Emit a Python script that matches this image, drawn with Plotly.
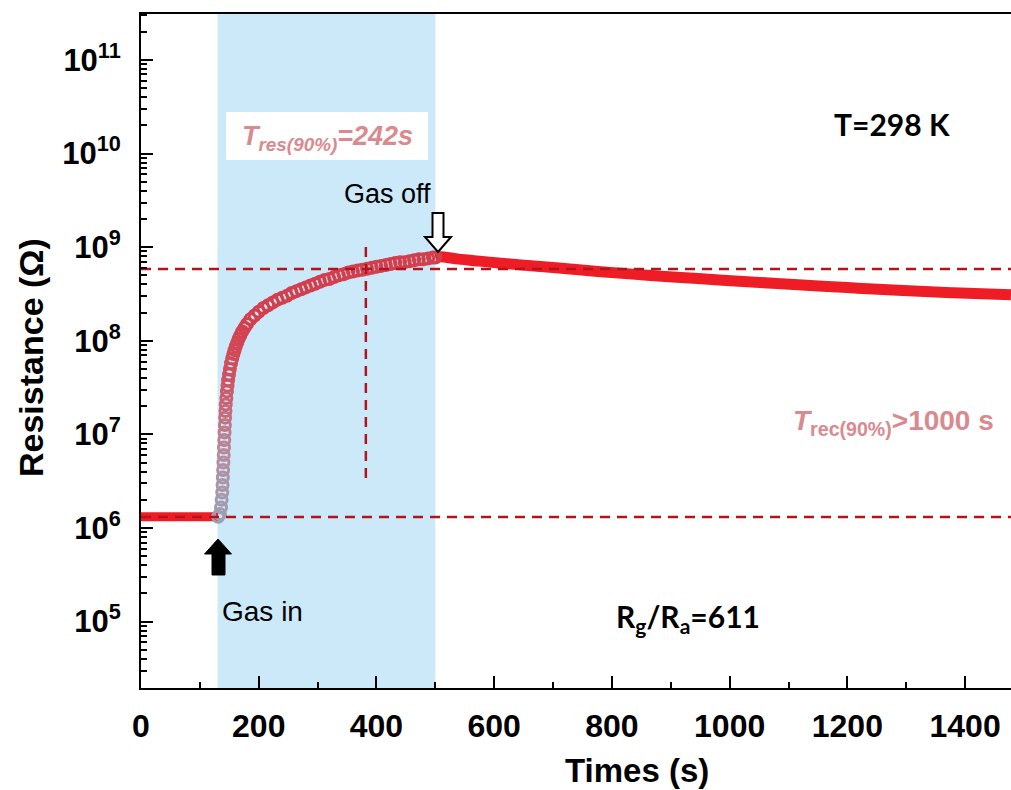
import plotly.graph_objects as go
import numpy as np

# ---------------- data ----------------
t_base = [0, 131]
r_base = [1.32e6, 1.32e6]

t_rise = [131, 134, 136, 137, 138, 138.5, 139, 139.5, 140, 140.5, 141, 141.5, 142, 142.5,
          143, 143.5, 144, 145, 146, 147, 148, 149.5, 151, 153, 155, 157, 159, 161, 163.5,
          166, 169, 172, 176, 180, 186, 193, 200, 208, 216, 224, 232, 240, 248, 256, 264,
          272, 280, 288, 296, 304, 312, 320, 328, 336, 344, 352, 360, 368, 376, 384, 392,
          400, 408, 416, 424, 432, 440, 448, 456, 464, 472, 480, 488, 496, 500]
r_rise = [1.32e6, 1.41e6, 1.66e6, 2.00e6, 2.40e6, 2.88e6, 3.47e6, 4.17e6, 5.01e6, 6.03e6,
          7.24e6, 8.71e6, 1.05e7, 1.26e7, 1.51e7, 1.78e7, 2.09e7, 2.45e7, 2.88e7, 3.31e7,
          3.80e7, 4.37e7, 5.01e7, 5.75e7, 6.46e7, 7.24e7, 7.94e7, 8.71e7, 9.55e7, 1.05e8,
          1.15e8, 1.26e8, 1.38e8, 1.51e8, 1.70e8, 1.86e8, 2.04e8, 2.24e8, 2.40e8, 2.57e8,
          2.75e8, 2.88e8, 3.02e8, 3.24e8, 3.39e8, 3.55e8, 3.72e8, 3.89e8, 4.07e8, 4.27e8,
          4.47e8, 4.57e8, 4.79e8, 5.01e8, 5.13e8, 5.37e8, 5.50e8, 5.62e8, 5.75e8, 5.89e8,
          6.03e8, 6.17e8, 6.31e8, 6.46e8, 6.61e8, 6.76e8, 6.92e8, 6.92e8, 7.08e8, 7.24e8,
          7.41e8, 7.41e8, 7.59e8, 7.76e8, 7.76e8]

t_rec = [500, 508, 540, 575, 607, 650, 700, 776, 860, 946, 1030, 1116, 1200, 1286, 1380, 1478]
r_rec = [7.76e8, 7.89e8, 7.45e8, 7.10e8, 6.78e8, 6.43e8, 6.07e8, 5.50e8, 5.02e8, 4.62e8,
         4.28e8, 3.96e8, 3.70e8, 3.46e8, 3.26e8, 3.10e8]

gas_window = [130, 500]
r_90_level = 5.85e8
r_air_level = 1.31e6
t_90 = 382
vline_r = [3.42e6, 1.11e9]

x_ticks = [0, 200, 400, 600, 800, 1000, 1200, 1400]
y_ticks = [1e5, 1e6, 1e7, 1e8, 1e9, 1e10, 1e11]
y_ticktext = ["10<sup>5</sup>", "10<sup>6</sup>", "10<sup>7</sup>", "10<sup>8</sup>",
              "10<sup>9</sup>", "10<sup>10</sup>", "10<sup>11</sup>"]

# ---------------- geometry helpers (pixel -> paper) ----------------
L, T, R, B = 141, 14, 1011, 688
def px(x):
    return (x - L) / (R - L)
def py(y):
    return (B - y) / (B - T)

XMAX = 1478
ARIAL = "Liberation Sans"
CAL = "Lato"
PINK = "#d98a8f"
DRED = "#b3141c"
RED = "#ee1c25"

fig = go.Figure()

# gas window
fig.add_shape(type="rect", xref="x", yref="paper", x0=gas_window[0], x1=gas_window[1],
              y0=0, y1=1, fillcolor="#cce9fa", line_width=0, layer="below")

# baseline
fig.add_trace(go.Scatter(x=t_base, y=r_base, mode="lines",
                         line=dict(color=RED, width=9), hoverinfo="skip"))
# recovery
fig.add_trace(go.Scatter(x=t_rec, y=r_rec, mode="lines", line_shape="spline",
                         line=dict(color=RED, width=11), hoverinfo="skip"))
# rise: open circles with grey->red gradient
fig.add_trace(go.Scatter(
    x=t_rise, y=r_rise, mode="markers",
    marker=dict(symbol="circle-open", size=11,
                color=np.log10(r_rise), cmin=6.1, cmax=8.2,
                colorscale=[[0, "#9ea0b4"], [0.35, "#b88a9a"], [0.7, "#cf5464"], [1, "#d43f4e"]],
                line=dict(width=3)),
    hoverinfo="skip"))

# dashed reference lines
dash = "10px,7px"
fig.add_trace(go.Scatter(x=[0, XMAX], y=[r_90_level, r_90_level], mode="lines",
                         line=dict(color=DRED, width=2.5, dash=dash), hoverinfo="skip"))
fig.add_trace(go.Scatter(x=[0, XMAX], y=[r_air_level, r_air_level], mode="lines",
                         line=dict(color=DRED, width=2.5, dash=dash), hoverinfo="skip"))
fig.add_trace(go.Scatter(x=[t_90, t_90], y=vline_r, mode="lines",
                         line=dict(color=DRED, width=2.5, dash=dash), hoverinfo="skip"))

# arrows
def path(points):
    s = "M " + " L ".join(f"{px(a):.5f},{py(b):.5f}" for a, b in points) + " Z"
    return s

gas_in = [(218, 539), (231.5, 554), (225, 554), (225, 575), (212, 575), (212, 554), (204.5, 554)]
gas_off = [(438, 252), (451, 237), (443.5, 237), (443.5, 213), (432.5, 213), (432.5, 237), (425, 237)]
fig.add_shape(type="path", xref="paper", yref="paper", path=path(gas_in),
              fillcolor="black", line=dict(color="black", width=1))
fig.add_shape(type="path", xref="paper", yref="paper", path=path(gas_off),
              fillcolor="white", line=dict(color="black", width=2))

# white box for T_res
fig.add_shape(type="rect", xref="paper", yref="paper", x0=px(226), x1=px(428),
              y0=py(160), y1=py(112), fillcolor="white", line_width=0)

ann = []
def A(x, y, text, size, family=ARIAL, color="black", weight="normal", **kw):
    ann.append(dict(x=px(x), y=py(y), xref="paper", yref="paper", text=text, showarrow=False,
                    font=dict(size=size, family=family, color=color, weight=weight),
                    xanchor="center", yanchor="middle", **kw))

A(327, 138, "<i>T<sub>res(90%)</sub>=242s</i>", 27, color=PINK, weight="bold")
A(893, 422, "<i>T</i><sub>rec(90%)</sub>>1000 s", 28, color=PINK, weight="bold")
A(892, 124, "T=298 K", 30, family=CAL, weight="bold")
A(688, 618, "R<sub>g</sub>/R<sub>a</sub>=611", 30, family=CAL, weight="bold")
A(262, 611, "Gas in", 28)
A(387, 194, "Gas off", 27)
A(637, 770, "Times (s)", 33, weight="bold")
A(31, 357, "Resistance (Ω)", 34, weight="bold", textangle=-90)

fig.update_layout(annotations=ann)

fig.update_xaxes(range=[0, XMAX], tickvals=x_ticks, ticks="inside", ticklen=12, tickwidth=2,
                 tickcolor="black", showline=True, linewidth=2, linecolor="black", mirror=True,
                 showgrid=False, zeroline=False, ticklabelstandoff=9,
                 tickfont=dict(family=ARIAL, size=32, color="black", weight="bold"),
                 minor=dict(dtick=100, tick0=0, ticks="inside", ticklen=6, tickwidth=2,
                            tickcolor="black", showgrid=False))

minor_y = [m * 10.0 ** k for k in range(4, 12) for m in range(2, 10)]
fig.update_yaxes(type="log", range=[4.291, 11.491], tickvals=y_ticks, ticktext=y_ticktext,
                 ticks="inside", ticklen=12, tickwidth=2, tickcolor="black",
                 showline=True, linewidth=2, linecolor="black", showgrid=False, zeroline=False,
                 ticklabelstandoff=12,
                 tickfont=dict(family=ARIAL, size=31, color="black", weight="bold"),
                 minor=dict(tickmode="array", tickvals=minor_y, ticks="inside", ticklen=6,
                            tickwidth=2, tickcolor="black", showgrid=False))

fig.update_layout(width=1011, height=790, margin=dict(l=L, r=0, t=T, b=790 - B),
                  plot_bgcolor="white", paper_bgcolor="white", showlegend=False)

fig.write_html("out.html")
